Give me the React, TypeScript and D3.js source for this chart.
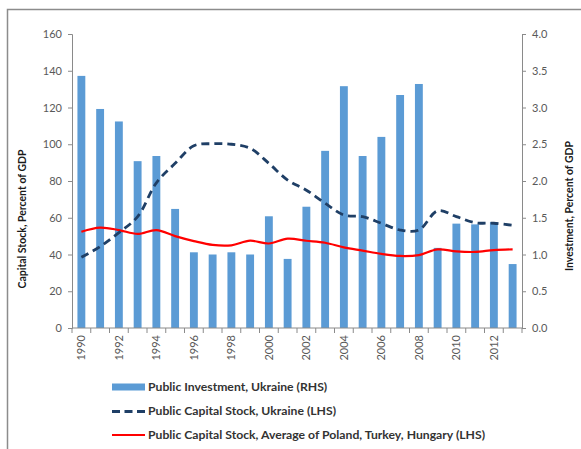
import { useEffect, useRef } from 'react'
import * as d3 from 'd3'

const years = d3.range(1990, 2014)
// Public investment, Ukraine, % of GDP (RHS)
const investment = [3.43, 2.98, 2.81, 2.27, 2.34, 1.62, 1.03, 1.0, 1.03, 1.0, 1.52, 0.94,
  1.65, 2.41, 3.29, 2.34, 2.6, 3.17, 3.32, 1.09, 1.42, 1.41, 1.44, 0.87]
// Public capital stock, Ukraine, % of GDP (LHS)
const stockUkraine = [38.5, 44.3, 51.9, 60.6, 79, 89.6, 99.2, 100.3, 100, 97.8, 89.6, 80.5,
  75, 67.9, 61.5, 60.6, 57, 53.3, 53.3, 63.8, 60.6, 57.3, 57, 55.9]
// Public capital stock, average of Poland, Turkey, Hungary (LHS)
const stockPeers = [52.4, 54.6, 53.3, 51.2, 53.3, 50, 47.3, 45.2, 45, 47.5, 46, 48.6,
  47.5, 46.4, 43.9, 42.1, 40.3, 39.2, 39.7, 42.8, 41.7, 41.4, 42.4, 42.8]

const leftTicks = [0, 20, 40, 60, 80, 100, 120, 140, 160]
const rightTicks = [0, 0.5, 1, 1.5, 2, 2.5, 3, 3.5, 4]
const legendLabels = [
  'Public Investment, Ukraine (RHS)',
  'Public Capital Stock, Ukraine (LHS)',
  'Public Capital Stock, Average of Poland, Turkey, Hungary (LHS)',
]

const FONT = 'Lato, "Open Sans", sans-serif'

const App = () => {
  const ref = useRef<SVGSVGElement | null>(null)

  useEffect(() => {
    const svg = d3.select(ref.current)
    svg.selectAll('*').remove()

    const left = 72, right = 522, top = 34, bottom = 328

    // frame
    svg.append('path')
      .attr('d', 'M7.5,449 V9.5 H581')
      .attr('fill', 'none')
      .attr('stroke', '#8c8c8c')
      .attr('stroke-width', 1.5)

    const x = d3.scaleBand<number>().domain(years).range([left, right]).paddingInner(0.58).paddingOuter(0.29)
    const yL = d3.scaleLinear().domain([0, 160]).range([bottom, top])
    const yR = d3.scaleLinear().domain([0, 4]).range([bottom, top])
    const cx = (d: number) => (x(d) as number) + x.bandwidth() / 2

    // bars
    svg.append('g')
      .selectAll('rect')
      .data(years)
      .enter()
      .append('rect')
      .attr('x', d => x(d) as number)
      .attr('width', x.bandwidth())
      .attr('y', (d, i) => yR(investment[i]))
      .attr('height', (d, i) => bottom - yR(investment[i]))
      .attr('fill', '#5b9bd5')

    // axes
    const axisColor = '#8a8a8a'
    const leftAxis = svg.append('g').attr('transform', `translate(${left},0)`)
      .call(d3.axisLeft(yL).tickValues(leftTicks).tickSize(4).tickPadding(6))
    const rightAxis = svg.append('g').attr('transform', `translate(${right},0)`)
      .call(d3.axisRight(yR).tickValues(rightTicks).tickSize(4).tickPadding(6).tickFormat(d3.format('.1f')))
    ;[leftAxis, rightAxis].forEach(g => {
      g.select('.domain').attr('stroke', axisColor)
      g.selectAll('.tick line').attr('stroke', axisColor)
      g.selectAll('.tick text').attr('fill', '#595959').style('font-family', FONT).style('font-size', '11px')
    })

    // x axis
    svg.append('line')
      .attr('x1', left).attr('x2', right).attr('y1', bottom).attr('y2', bottom)
      .attr('stroke', axisColor)
    const step = x.step()
    svg.append('g')
      .selectAll('line')
      .data(d3.range(years.length + 1))
      .enter()
      .append('line')
      .attr('x1', i => left + i * step).attr('x2', i => left + i * step)
      .attr('y1', bottom).attr('y2', bottom + 5)
      .attr('stroke', axisColor)
    svg.append('g')
      .selectAll('text')
      .data(years.filter(d => d % 2 === 0))
      .enter()
      .append('text')
      .attr('transform', d => `translate(${cx(d) + 4},${bottom + 7}) rotate(-90)`)
      .attr('text-anchor', 'end')
      .attr('fill', '#595959')
      .style('font-family', FONT)
      .style('font-size', '11px')
      .text(d => d)

    // lines
    const line = (vals: number[]) => d3.line<number>()
      .x(d => cx(d))
      .y((d, i) => yL(vals[i]))
      .curve(d3.curveCatmullRom.alpha(0.5))(years)

    svg.append('path')
      .attr('d', line(stockPeers))
      .attr('fill', 'none')
      .attr('stroke', '#ff0000')
      .attr('stroke-width', 2.2)
    svg.append('path')
      .attr('d', line(stockUkraine))
      .attr('fill', 'none')
      .attr('stroke', '#1f3f66')
      .attr('stroke-width', 2.8)
      .attr('stroke-dasharray', '8,5')

    // axis titles
    svg.append('text')
      .attr('transform', 'translate(26,219) rotate(-90)')
      .attr('text-anchor', 'middle')
      .style('font-family', FONT).style('font-size', '10.5px').style('font-weight', 'bold')
      .attr('fill', '#1a1a1a')
      .text('Capital Stock, Percent of GDP')
    svg.append('text')
      .attr('transform', 'translate(573,206) rotate(-90)')
      .attr('text-anchor', 'middle')
      .style('font-family', FONT).style('font-size', '10.5px').style('font-weight', 'bold')
      .attr('fill', '#1a1a1a')
      .text('Investment, Percent of GDP')

    // legend
    const lg = svg.append('g').attr('transform', 'translate(112,387)')
    lg.append('rect').attr('x', 0).attr('y', -3.5).attr('width', 33).attr('height', 7).attr('fill', '#5b9bd5')
    lg.append('line').attr('x1', 0).attr('x2', 33).attr('y1', 24.5).attr('y2', 24.5)
      .attr('stroke', '#1f3f66').attr('stroke-width', 2.8).attr('stroke-dasharray', '8,4.5')
    lg.append('line').attr('x1', 0).attr('x2', 33).attr('y1', 48).attr('y2', 48)
      .attr('stroke', '#ff0000').attr('stroke-width', 2.2)
    lg.selectAll('text.lab')
      .data(legendLabels)
      .enter()
      .append('text')
      .attr('class', 'lab')
      .attr('x', 36)
      .attr('y', (d, i) => i * 24.2 + 4)
      .attr('fill', '#333333')
      .style('font-family', FONT).style('font-size', '12.2px').style('font-weight', 'bold')
      .text(d => d)
  }, [])

  return (
    <svg ref={ref} width={581} height={449} style={{ position: 'absolute', left: 0, top: 0, background: '#fff' }} />
  )
}

export default App
